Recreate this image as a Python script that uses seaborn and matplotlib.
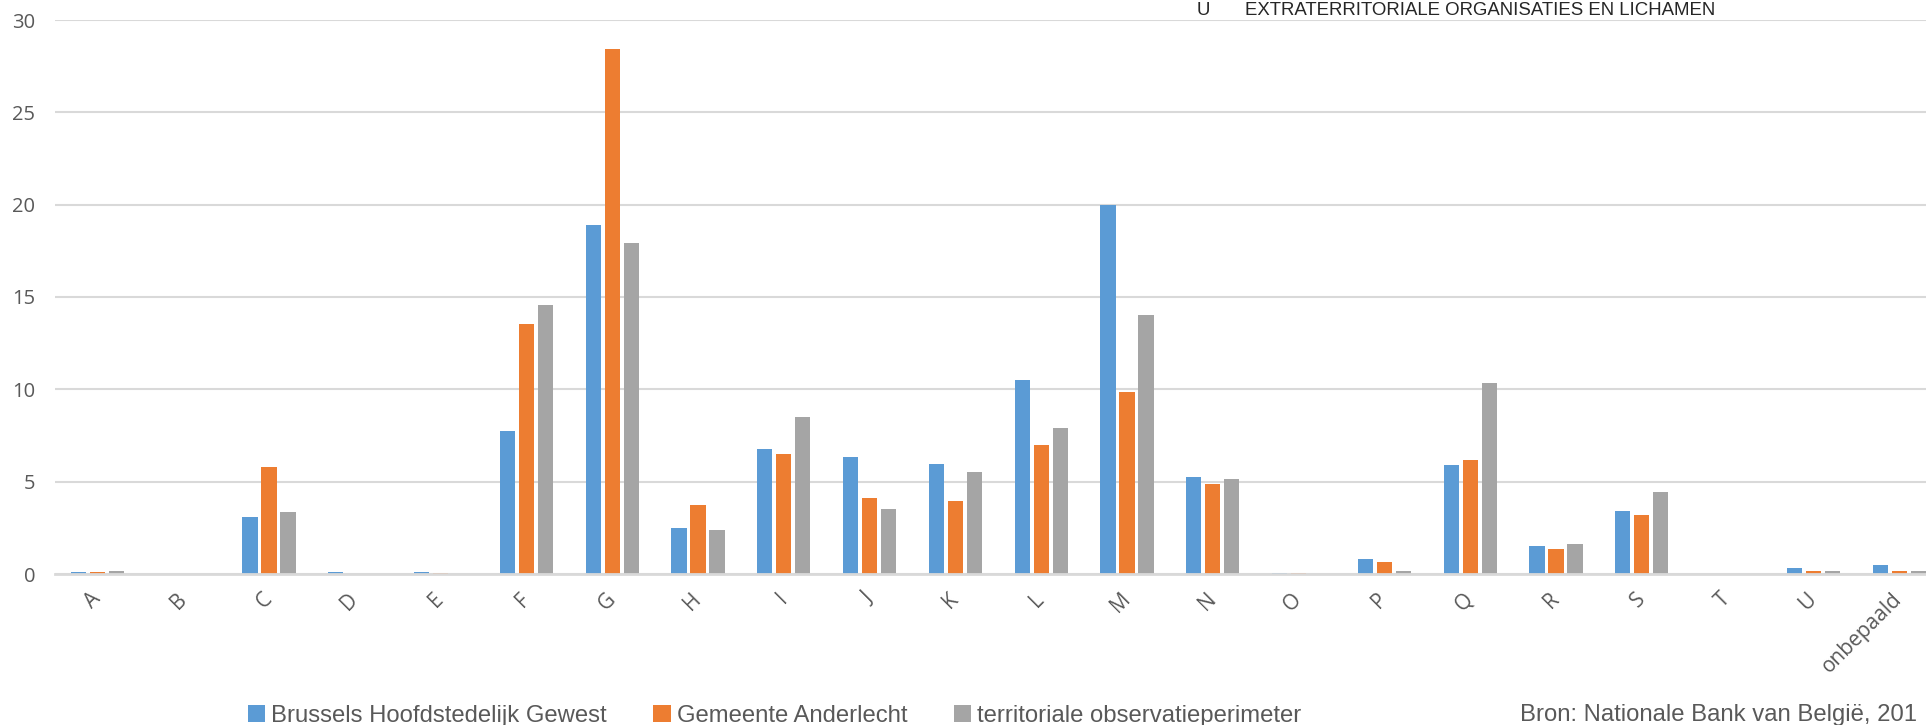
import matplotlib
matplotlib.use("Agg")
import matplotlib.pyplot as plt
import seaborn as sns
import pandas as pd
from matplotlib.patches import Patch

categories = ["A", "B", "C", "D", "E", "F", "G", "H", "I", "J", "K", "L",
              "M", "N", "O", "P", "Q", "R", "S", "T", "U", "onbepaald"]
brussels = [0.13, 0, 3.08, 0.10, 0.10, 7.76, 18.88, 2.48, 6.79, 6.36, 5.94, 10.49,
            19.98, 5.23, 0.08, 0.83, 5.89, 1.53, 3.43, 0, 0.30, 0.48]
anderlecht = [0.13, 0, 5.81, 0, 0.08, 13.52, 28.45, 3.76, 6.51, 4.13, 3.98, 7.01,
              9.84, 4.88, 0.03, 0.63, 6.19, 1.38, 3.18, 0, 0.17, 0.17]
perimeter = [0.18, 0, 3.36, 0, 0, 14.58, 17.91, 2.40, 8.49, 3.51, 5.53, 7.91,
             14.02, 5.16, 0, 0.15, 10.34, 1.63, 4.43, 0, 0.17, 0.17]
series_names = ["Brussels Hoofdstedelijk Gewest", "Gemeente Anderlecht",
                "territoriale observatieperimeter"]
colors = ["#5B9BD5", "#ED7D31", "#A5A5A5"]
y_ticks = [0, 5, 10, 15, 20, 25, 30]

rows = []
for name, vals in zip(series_names, [brussels, anderlecht, perimeter]):
    for c, v in zip(categories, vals):
        rows.append({"cat": c, "val": v, "serie": name})
df = pd.DataFrame(rows)

sns.set_theme(style="white")
plt.rcParams["font.family"] = ["Open Sans", "DejaVu Sans"]

W, H = 1926, 725
fig = plt.figure(figsize=(W / 100, H / 100), dpi=100)
left = 54.5 / W
width = 22 * 85.8 / W
bottom = (H - 574) / H
height = (574 - 20) / H
ax = fig.add_axes([left, bottom, width, height])

sns.barplot(data=df, x="cat", y="val", hue="serie", order=categories,
            hue_order=series_names, palette=colors, saturation=1,
            width=0.665, gap=0.2, linewidth=0, ax=ax, legend=False,
            errorbar=None)

ax.set_xlim(-0.5, len(categories) - 0.5)
ax.set_ylim(0, 30)
ax.set_yticks(y_ticks)
ax.set_yticklabels([str(t) for t in y_ticks])
ax.set_xlabel("")
ax.set_ylabel("")
ax.yaxis.grid(True, color="#D9D9D9", linewidth=1.5)
ax.set_axisbelow(True)
for s in ["top", "right", "left"]:
    ax.spines[s].set_visible(False)
ax.spines["bottom"].set_color("#D9D9D9")
ax.spines["bottom"].set_linewidth(2)
ax.tick_params(axis="y", length=0, pad=14, labelsize=14.5, labelcolor="#595959")
ax.tick_params(axis="x", length=0, pad=16, labelsize=15, labelcolor="#595959")
for lbl in ax.get_xticklabels():
    lbl.set_rotation(45)
    lbl.set_ha("right")
    lbl.set_va("center")
    lbl.set_rotation_mode("anchor")

# text from overlaid table at top
fig.text(1197 / W, 1 - 15 / H, "U", fontsize=13.4, color="#262626",
         family="Liberation Sans", va="baseline", ha="left")
fig.text(1245 / W, 1 - 15 / H, "EXTRATERRITORIALE ORGANISATIES EN LICHAMEN",
         fontsize=13.4, color="#262626", family="Liberation Sans",
         va="baseline", ha="left")

handles = [Patch(facecolor=c, edgecolor="none") for c in colors]
leg = fig.legend(handles, series_names, loc="lower left",
                 bbox_to_anchor=(248 / W, 1 - 727 / H), ncol=3, frameon=False,
                 prop={"family": "Liberation Sans", "size": 17.2},
                 handlelength=0.72, handleheight=0.72, handletextpad=0.25,
                 columnspacing=1.95, borderpad=0, borderaxespad=0)
for t in leg.get_texts():
    t.set_color("#595959")

fig.text(1520 / W, 1 - 721 / H, "Bron: Nationale Bank van België, 201",
         fontsize=17.2, color="#595959", family="Liberation Sans",
         va="baseline", ha="left")

fig.savefig("out.png", dpi=100)
